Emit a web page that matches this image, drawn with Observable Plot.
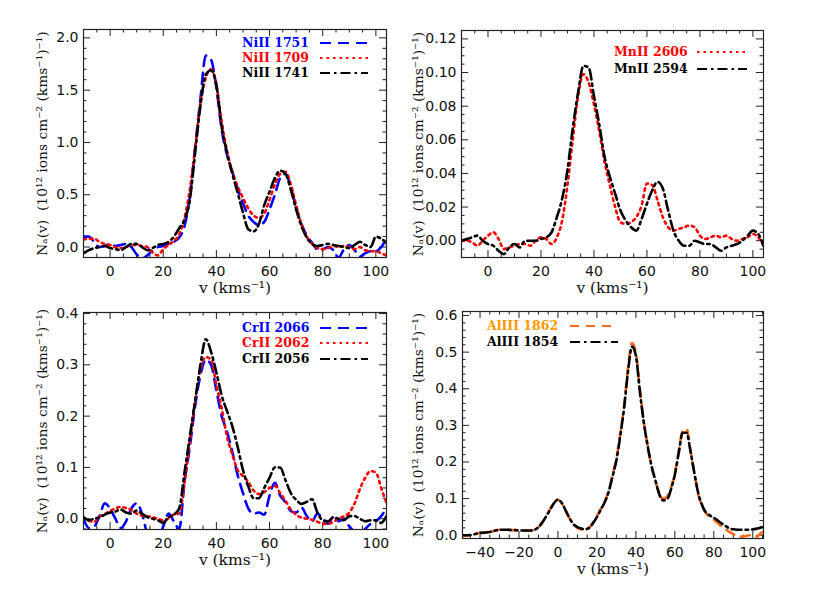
<!DOCTYPE html>
<html><head><meta charset="utf-8">
<script src="https://cdn.jsdelivr.net/npm/d3@7"></script>
<script src="https://cdn.jsdelivr.net/npm/@observablehq/plot@0.6"></script>
<style>
body{margin:0;background:#fff}
#root{position:relative;width:839px;height:599px;overflow:hidden;background:#fff}
#root svg{position:absolute}
</style>
</head><body><div id="root"></div>
<script>
// velocity grids (km/s)
const vNarrow = [-10,-8,-6,-4,-2,0,2,4,6,8,10,12,14,16,18,20,22,24,26,28,30,32,34,36,38,40,42,44,46,48,50,52,54,56,58,60,62,64,66,68,70,72,74,76,78,80,82,84,86,88,90,92,94,96,98,100,102,104];
const vWide = [-50,-48,-46,-44,-42,-40,-38,-36,-34,-32,-30,-28,-26,-24,-22,-20,-18,-16,-14,-12,-10,-8,-6,-4,-2,0,2,4,6,8,10,12,14,16,18,20,22,24,26,28,30,32,34,36,38,40,42,44,46,48,50,52,54,56,58,60,62,64,66,68,70,72,74,76,78,80,82,84,86,88,90,92,94,96,98,100,102,104,106];

// NiII
const ni1751 = [0.10,0.10,0.05,0.00,0.01,0.03,0.01,0.02,0.03,0.00,
 -0.07,-0.11,-0.08,-0.03,0.00,0.01,0.03,0.05,0.09,0.20,
 0.48,0.95,1.42,1.83,1.79,1.52,1.12,0.88,0.72,0.56,
 0.42,0.30,0.24,0.21,0.24,0.36,0.50,0.66,0.70,0.57,
 0.38,0.22,0.11,0.04,-0.02,-0.02,0.00,-0.03,-0.10,-0.02,
 0.02,-0.03,-0.09,-0.06,-0.04,-0.04,0.00,0.08];
const ni1709 = [0.07,0.08,0.08,0.05,0.03,0.02,0.00,-0.01,0.00,0.02,
 0.02,0.01,0.00,-0.05,-0.08,-0.02,0.02,0.06,0.12,0.28,
 0.55,0.95,1.38,1.62,1.70,1.55,1.20,0.92,0.72,0.58,
 0.47,0.37,0.30,0.28,0.32,0.45,0.60,0.70,0.72,0.60,
 0.40,0.22,0.10,0.03,-0.01,-0.02,-0.01,0.01,0.00,0.01,
 0.00,-0.02,0.00,-0.03,-0.04,-0.04,-0.06,-0.08];
const ni1741 = [-0.06,-0.03,-0.01,0.00,0.01,-0.01,-0.02,-0.03,0.00,0.03,
 0.03,0.00,-0.03,-0.01,0.02,0.03,0.05,0.10,0.18,0.26,
 0.45,0.90,1.35,1.65,1.69,1.55,1.15,0.90,0.70,0.52,
 0.33,0.17,0.15,0.22,0.40,0.53,0.66,0.73,0.70,0.55,
 0.36,0.20,0.09,0.03,0.01,0.02,0.03,0.02,0.01,0.00,
 -0.01,0.02,0.05,0.02,0.00,0.10,0.08,0.04];

// MnII
const mn2606 = [0.000,0.000,-0.001,-0.003,0.000,0.003,0.005,0.001,-0.005,-0.004,
 -0.003,-0.002,-0.002,-0.003,0.000,0.002,0.001,-0.002,0.002,0.012,
 0.033,0.060,0.086,0.099,0.094,0.081,0.065,0.047,0.033,0.020,
 0.011,0.010,0.011,0.014,0.021,0.034,0.033,0.024,0.014,0.008,
 0.006,0.007,0.008,0.009,0.008,0.003,0.001,0.002,0.003,0.002,
 0.003,0.001,0.000,0.001,0.002,0.004,0.002,-0.003];
const mn2594 = [0.000,0.001,0.002,0.003,0.000,-0.002,-0.003,-0.006,-0.008,-0.004,
 -0.002,-0.004,0.000,0.000,0.000,0.001,0.002,0.005,0.014,0.025,
 0.042,0.067,0.088,0.104,0.103,0.086,0.069,0.050,0.038,0.028,
 0.018,0.012,0.008,0.006,0.013,0.022,0.030,0.035,0.031,0.018,
 0.006,0.000,-0.003,-0.003,0.000,-0.001,-0.002,-0.002,-0.004,-0.006,
 -0.004,-0.003,-0.002,0.000,0.003,0.006,0.004,-0.003];

// CrII
const cr2066 = [0.000,-0.018,-0.015,0.005,0.030,0.020,0.000,-0.018,-0.005,0.020,
 0.030,0.010,-0.030,-0.050,-0.040,-0.015,0.010,-0.005,-0.020,0.070,
 0.140,0.220,0.280,0.310,0.300,0.250,0.200,0.170,0.130,0.085,
 0.050,0.020,0.010,0.012,0.008,0.045,0.070,0.045,0.032,0.015,
 0.012,0.022,0.005,-0.005,0.010,0.000,-0.010,0.005,-0.005,0.000,
 -0.015,-0.025,-0.030,-0.020,-0.010,-0.005,0.005,0.020];
const cr2062 = [0.003,-0.004,-0.006,0.004,0.009,0.015,0.020,0.023,0.021,0.017,
 0.010,0.006,0.005,0.003,0.000,-0.003,0.001,0.008,0.010,0.070,
 0.150,0.230,0.290,0.315,0.310,0.260,0.215,0.160,0.125,0.095,
 0.083,0.072,0.055,0.048,0.052,0.060,0.064,0.050,0.035,0.018,
 0.008,0.002,0.000,-0.002,-0.006,-0.010,-0.010,-0.006,0.000,0.005,
 0.012,0.030,0.058,0.080,0.093,0.090,0.060,0.030];
const cr2056 = [0.003,-0.003,0.000,0.003,0.008,0.012,0.014,0.018,0.012,0.010,
 0.016,0.010,0.003,0.000,-0.003,-0.008,0.003,0.008,0.020,0.090,
 0.160,0.230,0.300,0.350,0.325,0.285,0.240,0.210,0.180,0.140,
 0.095,0.063,0.040,0.040,0.060,0.080,0.100,0.100,0.075,0.050,
 0.037,0.029,0.033,0.038,0.012,-0.003,-0.005,0.003,0.000,-0.003,
 0.005,0.005,0.000,-0.005,-0.003,-0.003,-0.008,0.005];

// AlIII
const al1862 = [0.000,-0.002,0.000,0.002,0.004,0.006,0.007,0.008,0.010,0.013,
 0.015,0.015,0.015,0.014,0.014,0.013,0.013,0.012,0.012,0.015,
 0.022,0.036,0.053,0.071,0.089,0.097,0.087,0.066,0.045,0.029,
 0.020,0.015,0.014,0.020,0.034,0.052,0.072,0.092,0.120,0.165,
 0.210,0.278,0.355,0.460,0.525,0.500,0.400,0.312,0.245,0.188,
 0.148,0.115,0.100,0.105,0.130,0.170,0.230,0.285,0.290,0.232,
 0.170,0.112,0.078,0.060,0.050,0.043,0.033,0.024,0.016,0.009,
 0.003,-0.002,-0.004,-0.003,0.000,-0.002,-0.004,0.005,0.012];
const al1854 = [0.000,0.000,0.000,0.001,0.004,0.006,0.007,0.008,0.010,0.013,
 0.015,0.015,0.015,0.014,0.014,0.013,0.013,0.013,0.013,0.015,
 0.022,0.035,0.052,0.070,0.088,0.097,0.088,0.067,0.046,0.030,
 0.022,0.018,0.016,0.020,0.033,0.050,0.070,0.090,0.118,0.160,
 0.205,0.272,0.350,0.450,0.515,0.490,0.395,0.310,0.245,0.190,
 0.150,0.112,0.095,0.098,0.125,0.165,0.225,0.280,0.280,0.230,
 0.170,0.115,0.082,0.062,0.054,0.048,0.040,0.032,0.025,0.019,
 0.016,0.015,0.015,0.015,0.015,0.016,0.018,0.021,0.024];

// tick labels
const xTicksNarrow = [0,20,40,60,80,100];
const xTicksWide = [-40,-20,0,20,40,60,80,100];
const yTicksNi = [0,0.5,1.0,1.5,2.0];
const yTicksMn = [0,0.02,0.04,0.06,0.08,0.10,0.12];
const yTicksCr = [0,0.1,0.2,0.3,0.4];
const yTicksAl = [0,0.1,0.2,0.3,0.4,0.5,0.6];

const xLabel = "v (kms⁻¹)";
const yLabel = "Nₐ(v)\u00a0\u00a0(10¹² ions cm⁻² (kms⁻¹)⁻¹)";

const STYLE = {
  blue:   {stroke:"#0000ff", dash:"11,7", text:"#0000ff"},
  red:    {stroke:"#ff0000", dash:"2.5,4", text:"#ff0000"},
  black:  {stroke:"#000000", dash:"10,4,2.5,4", text:"#000000"},
  orange: {stroke:"#ff6a1a", dash:"9,7", text:"#ff9a00"}
};

const panels = [
  {left:0, top:0, width:410, height:300, mt:29, mr:24, mb:43, ml:83,
   xDomain:[-10,104], yDomain:[-0.1,2.08], v:vNarrow, xTicks:xTicksNarrow, xMinor:5,
   yTicks:yTicksNi, yMinor:0.1, yFmt:".1f", yDx:-41,
   series:[["NiII 1751",ni1751,"blue"],["NiII 1709",ni1709,"red"],["NiII 1741",ni1741,"black"]],
   leg:{x:242, y:[43,58,73], l1:320, l2:368}},
  {left:410, top:0, width:429, height:300, mt:30, mr:76, mb:43, ml:51,
   xDomain:[-10,104], yDomain:[-0.01,0.125], v:vNarrow, xTicks:xTicksNarrow, xMinor:5,
   yTicks:yTicksMn, yMinor:0.005, yFmt:".2f", yDx:-43,
   series:[["MnII 2606",mn2606,"red"],["MnII 2594",mn2594,"black"]],
   leg:{x:614, y:[52,69], l1:697, l2:747}},
  {left:0, top:300, width:410, height:299, mt:12, mr:24, mb:70, ml:83,
   xDomain:[-10,104], yDomain:[-0.021,0.402], v:vNarrow, xTicks:xTicksNarrow, xMinor:5,
   yTicks:yTicksCr, yMinor:0.02, yFmt:".1f", yDx:-41,
   series:[["CrII 2066",cr2066,"blue"],["CrII 2062",cr2062,"red"],["CrII 2056",cr2056,"black"]],
   leg:{x:242, y:[328,343,359], l1:320, l2:368}},
  {left:410, top:300, width:429, height:299, mt:11, mr:76, mb:61, ml:52,
   xDomain:[-49,105.5], yDomain:[-0.009,0.611], v:vWide, xTicks:xTicksWide, xMinor:5,
   yTicks:yTicksAl, yMinor:0.02, yFmt:".1f", yDx:-44,
   series:[["AlIII 1862",al1862,"orange"],["AlIII 1854",al1854,"black"]],
   leg:{x:487, y:[326,342], l1:570, l2:618}}
];

const root = document.getElementById("root");

function minors(domain, step, majors) {
  const out = [];
  const n0 = Math.ceil(domain[0]/step - 1e-9), n1 = Math.floor(domain[1]/step + 1e-9);
  for (let i = n0; i <= n1; i++) {
    const t = +(i*step).toFixed(6);
    if (!majors.some(m => Math.abs(m - t) < step/10)) out.push(t);
  }
  return out;
}

for (const p of panels) {
  const H = p.height - p.mt - p.mb, W = p.width - p.ml - p.mr;
  const xMin = minors(p.xDomain, p.xMinor, p.xTicks);
  const yMin = minors(p.yDomain, p.yMinor, p.yTicks);
  const maj = 7, mnr = 3.5;
  const tickStyle = {stroke:"#222", strokeWidth:1};
  const marks = [
    Plot.ruleX(p.xTicks, {x:d=>d, insetTop:H-maj, ...tickStyle}),
    Plot.ruleX(p.xTicks, {x:d=>d, insetBottom:H-maj, ...tickStyle}),
    Plot.ruleX(xMin, {x:d=>d, insetTop:H-mnr, ...tickStyle}),
    Plot.ruleX(xMin, {x:d=>d, insetBottom:H-mnr, ...tickStyle}),
    Plot.ruleY(p.yTicks, {y:d=>d, insetRight:W-maj, ...tickStyle}),
    Plot.ruleY(p.yTicks, {y:d=>d, insetLeft:W-maj, ...tickStyle}),
    Plot.ruleY(yMin, {y:d=>d, insetRight:W-mnr, ...tickStyle}),
    Plot.ruleY(yMin, {y:d=>d, insetLeft:W-mnr, ...tickStyle}),
  ];
  for (const [name, vals, sty] of p.series) {
    const s = STYLE[sty];
    marks.push(Plot.line(p.v.map((x,i)=>({x, y:vals[i]})), {
      x:"x", y:"y", stroke:s.stroke, strokeWidth:2.6, strokeDasharray:s.dash,
      curve:"monotone-x", clip:true
    }));
  }
  marks.push(
    Plot.frame({stroke:"#222", strokeWidth:1.2}),
    Plot.axisX(p.xTicks, {tickSize:0, tickPadding:9, tickFormat:d3.format("d"), label:null, fontSize:14}),
    Plot.axisY(p.yTicks, {tickSize:0, tickPadding:5, tickFormat:d3.format(p.yFmt), label:null, fontSize:14}),
    Plot.text([xLabel], {frameAnchor:"bottom", lineAnchor:"middle", textAnchor:"middle", dy:31, text:d=>d, fontSize:15.5, fontFamily:"DejaVu Serif", fill:"#111"}),
    Plot.text([yLabel], {frameAnchor:"left", lineAnchor:"middle", textAnchor:"middle", dx:p.yDx, rotate:-90, text:d=>d, fontSize:13.8, fontFamily:"DejaVu Serif", fill:"#111"})
  );
  const svg = Plot.plot({
    width:p.width, height:p.height,
    marginTop:p.mt, marginRight:p.mr, marginBottom:p.mb, marginLeft:p.ml,
    x:{domain:p.xDomain}, y:{domain:p.yDomain},
    style:{fontFamily:"DejaVu Sans", fontSize:"14px", color:"#111", background:"transparent", overflow:"visible"},
    marks
  });
  svg.style.left = p.left + "px";
  svg.style.top = p.top + "px";
  root.appendChild(svg);
}

// legends (page coordinates)
const leg = d3.create("svg").attr("width",839).attr("height",599)
  .style("left","0px").style("top","0px").style("pointer-events","none");
for (const p of panels) {
  p.series.forEach(([name, vals, sty], i) => {
    const s = STYLE[sty], y = p.leg.y[i];
    leg.append("text").attr("x", p.leg.x).attr("y", y).attr("dy","0.35em")
      .attr("fill", s.text).attr("font-family","DejaVu Serif").attr("font-weight","bold")
      .attr("font-size", 12.5).text(name);
    leg.append("line").attr("x1", p.leg.l1).attr("x2", p.leg.l2).attr("y1", y).attr("y2", y)
      .attr("stroke", s.stroke).attr("stroke-width", 2.2).attr("stroke-dasharray", s.dash);
  });
}
root.appendChild(leg.node());
</script>
</body></html>
